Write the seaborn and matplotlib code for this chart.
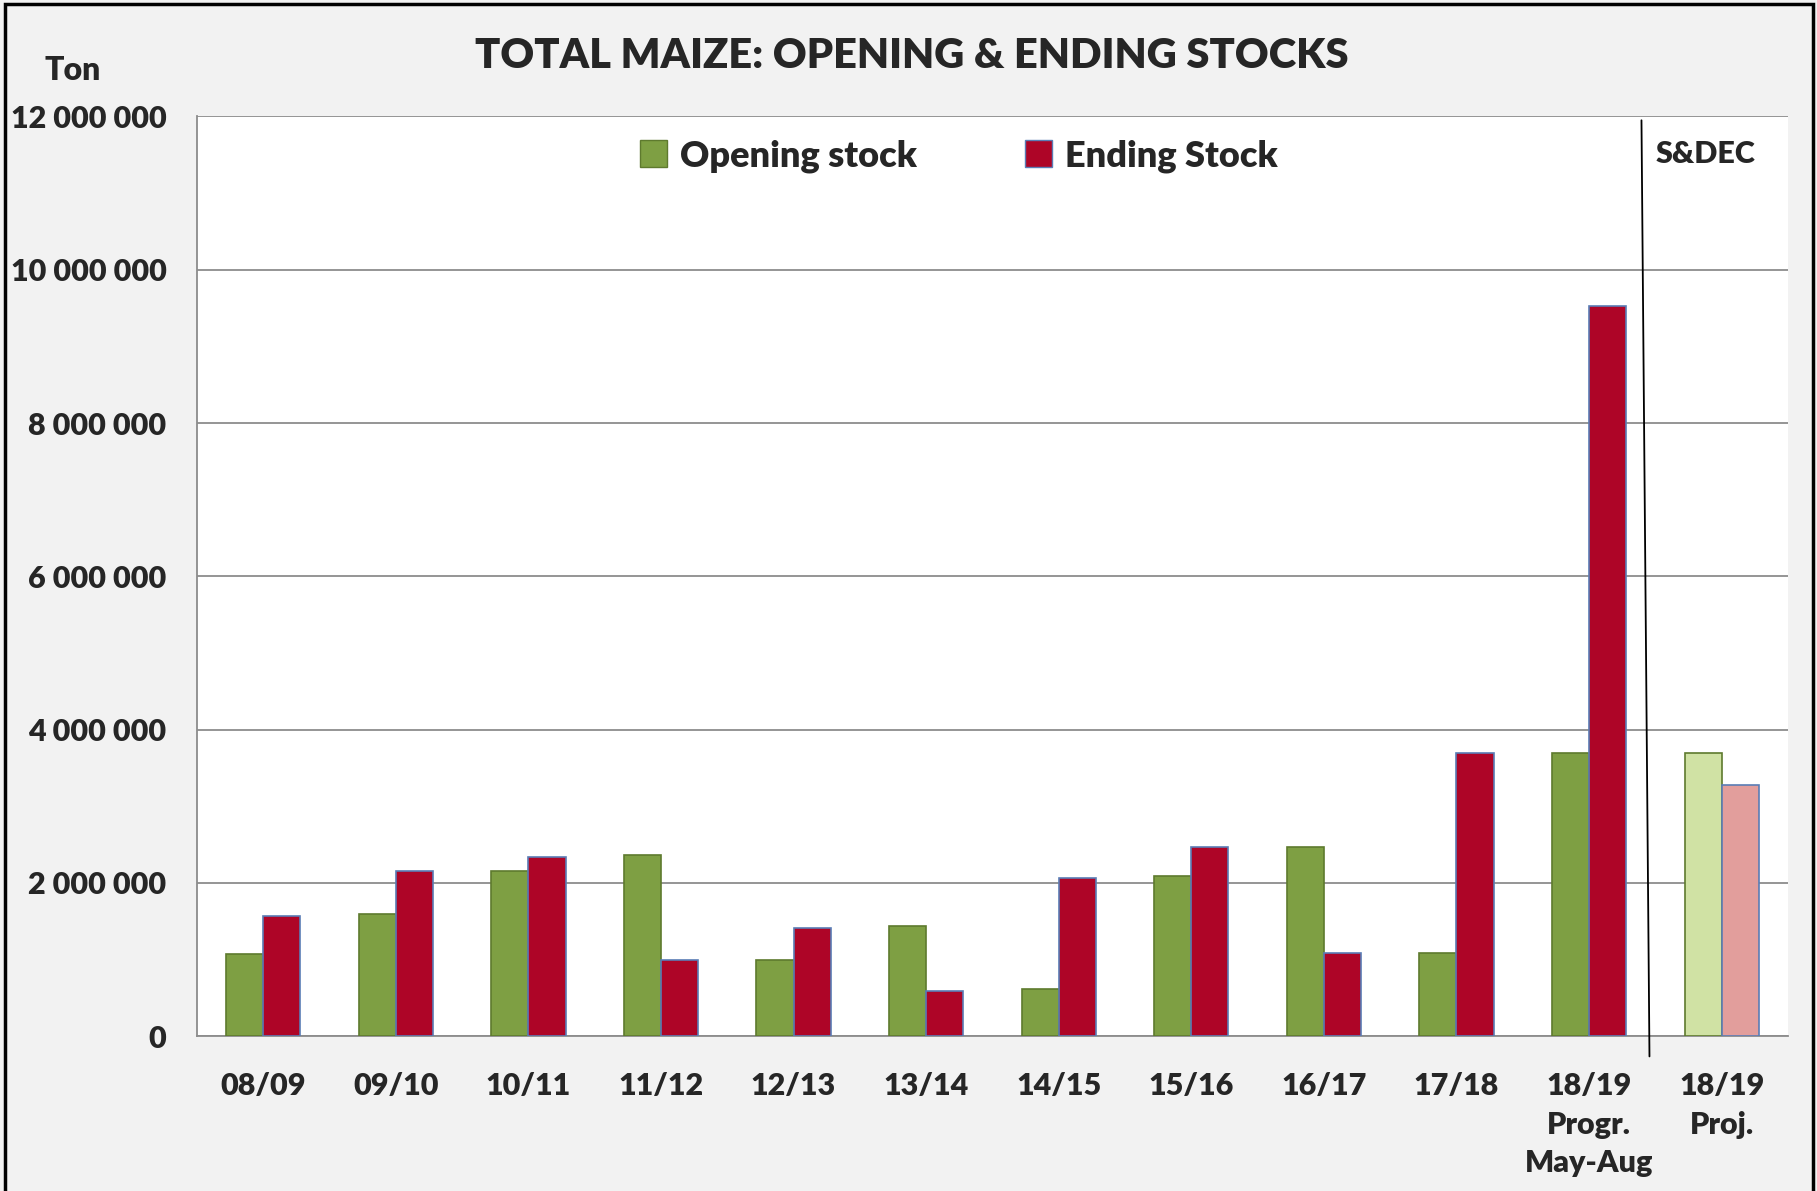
import pandas as pd
import seaborn as sns
import matplotlib.pyplot as plt
from matplotlib.lines import Line2D
from matplotlib.patches import Rectangle, Patch
from matplotlib.ticker import FuncFormatter

seasons = ["08/09", "09/10", "10/11", "11/12", "12/13", "13/14", "14/15",
           "15/16", "16/17", "17/18", "18/19\nProgr.\nMay-Aug", "18/19\nProj."]
opening_stock = [1070000, 1600000, 2150000, 2360000, 1000000, 1440000, 610000,
                 2090000, 2470000, 1090000, 3690000, 3690000]
ending_stock = [1570000, 2150000, 2340000, 1000000, 1410000, 590000, 2060000,
                2470000, 1090000, 3690000, 9530000, 3280000]

series = ["Opening stock", "Ending Stock"]
colors = {"Opening stock": "#7E9F43", "Ending Stock": "#AE0527"}
light_colors = {"Opening stock": "#D0E2A4", "Ending Stock": "#E29E9C"}
edges = {"Opening stock": "#5E7A2E", "Ending Stock": "#5A7DB5"}

df = pd.DataFrame({
    "season": seasons * 2,
    "stock": series[0:1] * len(seasons) + series[1:2] * len(seasons),
    "ton": opening_stock + ending_stock,
})

sns.set_style("white")
plt.rcParams["font.family"] = ["Lato", "DejaVu Sans"]
W = "heavy"

fig = plt.figure(figsize=(18.17, 11.91), dpi=100)
fig.patch.set_facecolor("#F2F2F2")
ax = fig.add_axes([0.1084, 0.130, 0.8756, 0.7722])
ax.set_facecolor("white")

sns.barplot(data=df, x="season", y="ton", hue="stock", hue_order=series,
            palette=colors, width=0.56, gap=0, saturation=1, ax=ax,
            legend=False, zorder=3)

# last group is the projection: lighter shade
for cont, name in zip(ax.containers, series):
    for i, bar in enumerate(cont):
        bar.set_edgecolor(edges[name])
        bar.set_linewidth(1.2)
        if i == len(seasons) - 1:
            bar.set_facecolor(light_colors[name])

ax.set_ylim(0, 12000000)
ax.set_yticks(range(0, 12000001, 2000000))
ax.yaxis.set_major_formatter(FuncFormatter(lambda v, p: f"{int(v):,}".replace(",", " ")))
ax.grid(axis="y", color="#8C8C8C", linewidth=1.3, zorder=0)
ax.tick_params(axis="both", length=0)
ax.tick_params(axis="y", pad=22, labelsize=22)
ax.tick_params(axis="x", pad=26, labelsize=22)
for lab in ax.get_xticklabels() + ax.get_yticklabels():
    lab.set_fontweight(W)
for lab in ax.get_xticklabels():
    lab.set_linespacing(1.45)
ax.set_xlabel("")
ax.set_ylabel("")
for s in ["top", "right"]:
    ax.spines[s].set_visible(False)
for s in ["left", "bottom"]:
    ax.spines[s].set_color("#8C8C8C")
    ax.spines[s].set_linewidth(1.3)

handles = [Patch(facecolor=colors[n], edgecolor=edges[n]) for n in series]
ax.legend(handles, series, loc="center", bbox_to_anchor=(0.479, 0.957),
          ncol=2, frameon=False, handlelength=0.75, handleheight=0.75,
          handletextpad=0.35, columnspacing=3.0,
          prop={"weight": W, "size": 26})

fig.text(0.502, 0.953, "TOTAL MAIZE: OPENING & ENDING STOCKS", ha="center",
         va="center", fontsize=30, fontweight=W)
fig.text(0.040, 0.941, "Ton", ha="center", va="center", fontsize=23,
         fontweight=W)
fig.text(0.911, 0.871, "S&DEC", ha="left", va="center", fontsize=22,
         fontweight=W)

# separator between progress and projection
fig.add_artist(Line2D([0.9034, 0.9078], [0.899, 0.113], color="black",
                      linewidth=1.3, transform=fig.transFigure))
fig.add_artist(Rectangle((0.003, -0.01), 0.995, 1.007, fill=False,
                         edgecolor="black", linewidth=2.5,
                         transform=fig.transFigure))

plt.savefig("out.png", dpi=100, facecolor=fig.get_facecolor())
